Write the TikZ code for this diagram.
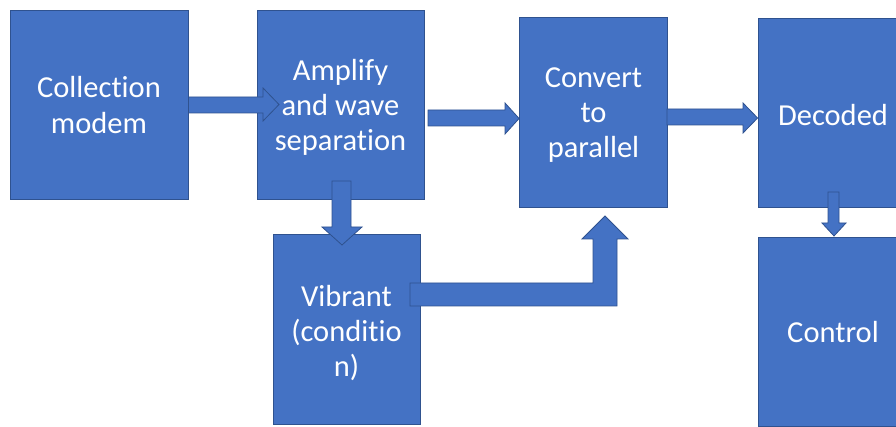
\documentclass[tikz,border=0pt]{standalone}
\usepackage{fontspec}
\setmainfont[Ligatures=CommonOff]{Carlito}
\definecolor{boxfill}{HTML}{4472C4}
\definecolor{boxline}{HTML}{2F528F}
\begin{document}
\begin{tikzpicture}[x=1pt,y=-1pt,
  box/.style={rectangle, fill=boxfill, draw=boxline, line width=0.8pt, inner sep=0pt},
  txt/.style={inner sep=0pt, text=white, align=center, font=\fontsize{30.5}{35.3}\selectfont},
  blockarrow/.style={fill=boxfill, draw=boxline, line width=0.8pt, line join=miter}]
\useasboundingbox (0,0) rectangle (896,427);
% boxes
\node[box, minimum width=178pt, minimum height=189pt] (collect) at (99,104.5) {};
\node[box, minimum width=167pt, minimum height=189pt] (amplify) at (340.5,104.5) {};
\node[box, minimum width=148pt, minimum height=190pt] (convert) at (593.5,112) {};
\node[box, minimum width=150pt, minimum height=189pt] (decoded) at (833,112.5) {};
\node[box, minimum width=150pt, minimum height=189pt] (control) at (833,332) {};
\node[box, minimum width=147pt, minimum height=190pt] (vibrant) at (346.5,329) {};
% texts
\node[txt] (tcollect) at ([yshift=-0.5pt]collect.center) {Collection\\modem};
\node[txt] (tamplify) at ([yshift=-3pt]amplify.center) {Amplify\\and wave\\separation};
\node[txt] (tconvert) at ([yshift=-3pt]convert.center) {Convert\\to\\parallel};
\node[txt] (tdecoded) at ([yshift=-2.5pt]decoded.center) {Decoded};
\node[txt] (tcontrol) at (control.center) {Control};
\node[txt] (tvibrant) at ([yshift=-4pt]vibrant.center) {Vibrant\\(conditio\\n)};
% block arrows
\draw[blockarrow] (collect.east |- 0,97) -- (263,97) -- (263,88) -- (279,104.5) -- (263,121) -- (263,113) -- (collect.east |- 0,113) -- cycle;
\draw[blockarrow] (332,181) -- (351,181) -- (351,227) -- (362,227) -- (342,245) -- (322,227) -- (332,227) -- cycle;
\draw[blockarrow] (428,110) -- (505,110) -- (505,103) -- (convert.west |- 0,118.5) -- (505,134) -- (505,126) -- (428,126) -- cycle;
\draw[blockarrow] (667,109) -- (743,109) -- (743,103) -- (decoded.west |- 0,118) -- (743,133) -- (743,125) -- (667,125) -- cycle;
\draw[blockarrow] (828,192) -- (839,192) -- (839,223) -- (846,223) -- (834,236) -- (822,223) -- (828,223) -- cycle;
\draw[blockarrow] (410,283) -- (593,283) -- (593,239) -- (582,239) -- (605,216) -- (628,239) -- (617,239) -- (617,306) -- (410,306) -- cycle;
\end{tikzpicture}
\end{document}
